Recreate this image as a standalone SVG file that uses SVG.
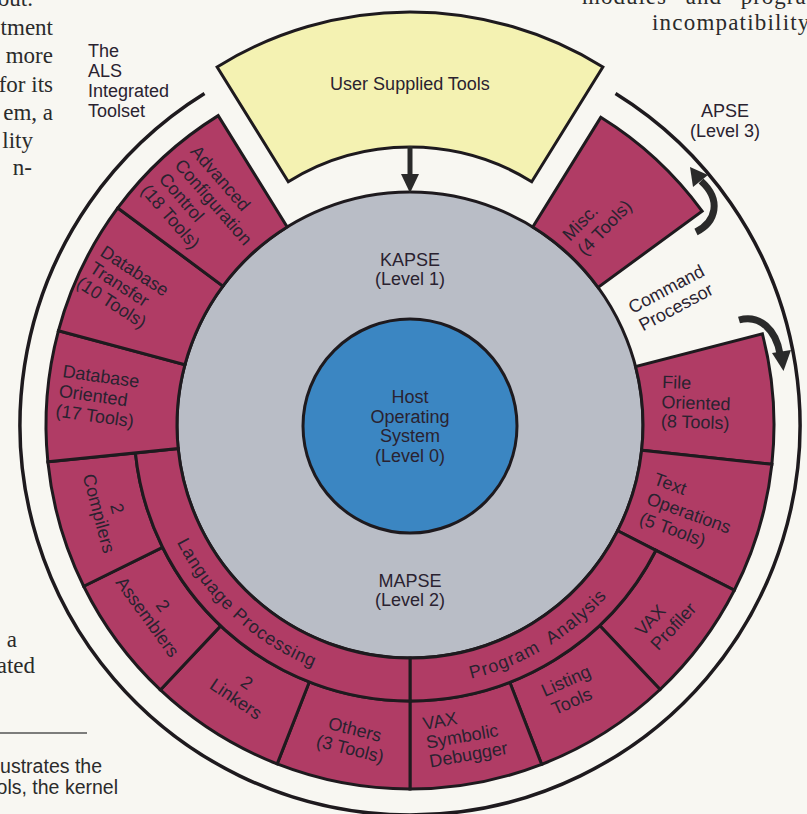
<svg xmlns="http://www.w3.org/2000/svg" width="807" height="814" viewBox="0 0 807 814">
<style>
.bg{fill:#f8f7f2}
.cell{fill:#b03c65;stroke:#1e1a1e;stroke-width:3;stroke-linejoin:miter}
.ring{fill:none;stroke:#1e1a1e;stroke-width:3.5}
.lbl{font-family:"Liberation Sans",Arial,Helvetica,sans-serif;font-size:18px;fill:#2a2230}
.mid{text-anchor:middle}
.body{font-family:"Liberation Serif","Times New Roman",serif;font-size:23px;fill:#2b2b2b;text-anchor:end}
.cap{font-family:"Liberation Sans",Arial,sans-serif;font-size:19.5px;fill:#2b2b2b;text-anchor:end}
.conn{fill:none;stroke:#2a2a2a;stroke-width:7}
.head{fill:#2a2a2a}
</style>
<defs>
<path id="lpPath" d="M 151.23 459.07 A 261 261 0 0 0 398.62 685.75"/>
<path id="paPath" d="M 415.92 685.93 A 261 261 0 0 0 638.94 550.34"/>
</defs>
<rect class="bg" x="0" y="0" width="807" height="814"/>

<g id="page-text">
<text class="body" x="33" y="6">out.</text>
<text class="body" x="53" y="35">tment</text>
<text class="body" x="53" y="63">more</text>
<text class="body" x="53" y="92">for its</text>
<text class="body" x="53" y="120">em, a</text>
<text class="body" x="33" y="148">lity</text>
<text class="body" x="32" y="175">n-</text>
<text class="body" x="17" y="647">a</text>
<text class="body" x="35" y="673">ated</text>
<text class="body" style="text-anchor:start" x="582" y="4" letter-spacing="1" word-spacing="12">modules and program</text>
<text class="body" style="text-anchor:start" x="652" y="30" letter-spacing="1.2">incompatibility</text>
<line x1="0" y1="733" x2="87" y2="733" stroke="#555" stroke-width="1.5"/>
<text class="cap" x="102" y="773">ustrates the</text>
<text class="cap" x="118" y="794">ols, the kernel</text>
</g>

<g id="als-toolset">
<path class="ring" d="M 615.51 93.54 A 390 390 0 1 1 204.49 93.54"/>
<text class="lbl"><tspan x="88" y="57">The</tspan><tspan x="88" y="77">ALS</tspan><tspan x="88" y="97">Integrated</tspan><tspan x="88" y="117">Toolset</tspan></text>
</g>

<g id="apse">
<text class="lbl mid"><tspan x="725" y="117">APSE</tspan><tspan x="725" y="137">(Level 3)</tspan></text>
</g>

<g id="kapse">
<circle cx="410" cy="425" r="233" fill="#b9bdc6" stroke="#1e1a1e" stroke-width="3"/>
<text class="lbl mid"><tspan x="410" y="266">KAPSE</tspan><tspan x="410" y="285">(Level 1)</tspan></text>
</g>

<g id="mapse">
<text class="lbl mid"><tspan x="410" y="587">MAPSE</tspan><tspan x="410" y="606">(Level 2)</tspan></text>
</g>

<g id="command-processor">
<text class="lbl mid" transform="translate(671,298) rotate(-28)"><tspan x="0" y="-4">Command</tspan><tspan x="0" y="16.5">Processor</tspan></text>
</g>

<g id="misc">
<path class="cell" d="M 600.76 117.34 A 362 362 0 0 1 702.12 211.20 L 598.02 287.39 A 233 233 0 0 0 532.78 226.98 Z"/>
<text class="lbl" transform="translate(570,242) rotate(-46)"><tspan x="0" y="0">Misc.</tspan><tspan x="0" y="21">(4 Tools)</tspan></text>
</g>

<g id="file-oriented">
<path class="cell" d="M 762.41 333.86 A 364 364 0 0 1 771.87 464.31 L 641.64 450.16 A 233 233 0 0 0 635.58 366.66 Z"/>
<text class="lbl" transform="translate(662,388) rotate(2)"><tspan x="0" y="0">File</tspan><tspan x="0" y="20">Oriented</tspan><tspan x="0" y="39">(8 Tools)</tspan></text>
</g>

<g id="text-operations">
<path class="cell" d="M 771.87 464.31 A 364 364 0 0 1 734.33 590.25 L 617.61 530.78 A 233 233 0 0 0 641.64 450.16 Z"/>
<text class="lbl" transform="translate(652.6,484) rotate(20)"><tspan x="0" y="0">Text</tspan><tspan x="0" y="21">Operations</tspan><tspan x="0" y="42">(5 Tools)</tspan></text>
</g>

<g id="vax-profiler">
<path class="cell" d="M 734.33 590.25 A 364 364 0 0 1 660.10 689.47 L 599.64 625.53 A 276 276 0 0 0 655.92 550.30 Z"/>
<text class="lbl" transform="translate(643,637) rotate(-47)"><tspan x="0" y="0">VAX</tspan><tspan x="0" y="21">Profiler</tspan></text>
</g>

<g id="listing-tools">
<path class="cell" d="M 660.10 689.47 A 364 364 0 0 1 541.63 764.36 L 509.81 682.32 A 276 276 0 0 0 599.64 625.53 Z"/>
<text class="lbl mid" transform="translate(568.5,686.4) rotate(-24)"><tspan x="0" y="0">Listing</tspan><tspan x="-3" y="21">Tools</tspan></text>
</g>

<g id="vax-symbolic-debugger">
<path class="cell" d="M 541.63 764.36 A 364 364 0 0 1 410 789 L 410 701 A 276 276 0 0 0 509.81 682.32 Z"/>
<text class="lbl" transform="translate(424,730) rotate(-10)"><tspan x="0" y="0">VAX</tspan><tspan x="0" y="19">Symbolic</tspan><tspan x="0" y="38">Debugger</tspan></text>
</g>

<g id="program-analysis">
<path class="cell" d="M 655.92 550.30 A 276 276 0 0 1 410 701 L 410 658 A 233 233 0 0 0 617.61 530.78 Z"/>
<text class="lbl mid" letter-spacing="1" word-spacing="6"><textPath href="#paPath" startOffset="50%">Program Analysis</textPath></text>
</g>

<g id="others">
<path class="cell" d="M 410 789 A 364 364 0 0 1 277.18 763.91 L 309.29 681.97 A 276 276 0 0 0 410 701 Z"/>
<text class="lbl mid" transform="translate(353.5,735.3) rotate(14)"><tspan x="0" y="0">Others</tspan><tspan x="0" y="20">(3 Tools)</tspan></text>
</g>

<g id="linkers">
<path class="cell" d="M 277.18 763.91 A 364 364 0 0 1 160.36 689.91 L 220.71 625.86 A 276 276 0 0 0 309.29 681.97 Z"/>
<text class="lbl mid" transform="translate(232.6,704) rotate(34)"><tspan x="0" y="-19.5">2</tspan><tspan x="0" y="0">Linkers</tspan></text>
</g>

<g id="assemblers">
<path class="cell" d="M 160.36 689.91 A 364 364 0 0 1 83.68 586.28 L 162.57 547.29 A 276 276 0 0 0 220.71 625.86 Z"/>
<text class="lbl mid" transform="translate(142.6,620.5) rotate(54)"><tspan x="0" y="-19">2</tspan><tspan x="0" y="0">Assemblers</tspan></text>
</g>

<g id="compilers">
<path class="cell" d="M 83.68 586.28 A 364 364 0 0 1 47.86 461.79 L 135.41 452.89 A 276 276 0 0 0 162.57 547.29 Z"/>
<text class="lbl mid" transform="translate(93,515) rotate(75)"><tspan x="0" y="-19">2</tspan><tspan x="0" y="0">Compilers</tspan></text>
</g>

<g id="language-processing">
<path class="cell" d="M 410 701 A 276 276 0 0 1 135.41 452.89 L 178.19 448.55 A 233 233 0 0 0 410 658 Z"/>
<text class="lbl mid" letter-spacing="0.8"><textPath href="#lpPath" startOffset="50%">Language Processing</textPath></text>
</g>

<g id="database-oriented">
<path class="cell" d="M 47.86 461.79 A 364 364 0 0 1 58.40 330.79 L 184.94 364.69 A 233 233 0 0 0 178.19 448.55 Z"/>
<text class="lbl" transform="translate(62,377) rotate(8)"><tspan x="0" y="0">Database</tspan><tspan x="-1" y="20">Oriented</tspan><tspan x="-1.5" y="40">(17 Tools)</tspan></text>
</g>

<g id="database-transfer">
<path class="cell" d="M 58.40 330.79 A 364 364 0 0 1 117.77 207.98 L 222.94 286.08 A 233 233 0 0 0 184.94 364.69 Z"/>
<text class="lbl" transform="translate(99,255) rotate(33)"><tspan x="0" y="0">Database</tspan><tspan x="0" y="19.5">Transfer</tspan><tspan x="-3" y="39">(10 Tools)</tspan></text>
</g>

<g id="advanced-configuration-control">
<path class="cell" d="M 117.77 207.98 A 364 364 0 0 1 218.19 115.64 L 287.22 226.98 A 233 233 0 0 0 222.94 286.08 Z"/>
<text class="lbl" transform="translate(189.6,151.9) rotate(49)"><tspan x="0" y="0">Advanced</tspan><tspan x="0" y="21">Configuration</tspan><tspan x="0" y="42">Control</tspan><tspan x="-3" y="63">(18 Tools)</tspan></text>
</g>

<g id="host-operating-system">
<circle cx="410" cy="426" r="107" fill="#3b86c2" stroke="#1e1a1e" stroke-width="3"/>
<text class="lbl mid"><tspan x="410" y="403">Host</tspan><tspan x="410" y="422.5">Operating</tspan><tspan x="410" y="442">System</tspan><tspan x="410" y="461.5">(Level 0)</tspan></text>
</g>

<g id="user-supplied-tools">
<path d="M 217.13 66.94 A 366 366 0 0 1 602.87 66.94 L 531.73 181.68 A 231 231 0 0 0 288.27 181.68 Z" fill="#f4f2b2" stroke="#1e1a1e" stroke-width="3"/>
<text class="lbl mid" x="410" y="90">User Supplied Tools</text>
</g>

<g id="connectors">
<line x1="410" y1="146" x2="410" y2="177" stroke="#2a2a2a" stroke-width="5"/>
<polygon class="head" points="401,174 419,174 410,193"/>
<path class="conn" d="M 696 232 C 716 222 722 200 701 181"/>
<polygon class="head" points="708,175 693,187 690,167"/>
<path class="conn" d="M 739 320 C 760 314 776 330 780 354"/>
<polygon class="head" points="772,353 791,350 783.5,371"/>
</g>
</svg>
